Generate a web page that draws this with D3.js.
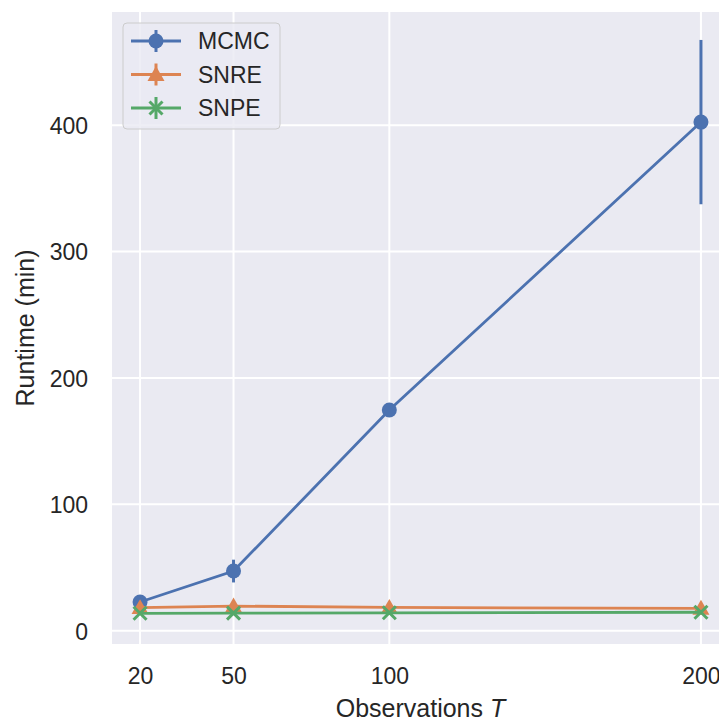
<!DOCTYPE html>
<html>
<head>
<meta charset="utf-8">
<script src="https://cdn.jsdelivr.net/npm/d3@7"></script>
<style>
  html, body { margin: 0; padding: 0; background: #fff; }
  svg { display: block; font-family: "Liberation Sans", Arial, sans-serif; }
</style>
</head>
<body>
<svg id="chart" width="719" height="725"></svg>
<script>
'use strict';

// data
const observations = [20, 50, 100, 200];
const xTicks = [20, 50, 100, 200];
const yTicks = [0, 100, 200, 300, 400];

const mcmcRuntime = [22.7, 47.2, 174.6, 402.4];
const mcmcErr = [2.5, 9, 3, 65];
const snreRuntime = [18.2, 19.5, 18.4, 17.7];
const snreErr = [1.5, 1.5, 1, 1];
const snpeRuntime = [13.8, 13.9, 14.2, 14.6];
const snpeErr = [0.6, 0.6, 0.6, 0.6];

const series = [
  { key: 'MCMC', color: '#4c72b0', marker: 'circle', values: mcmcRuntime, err: mcmcErr },
  { key: 'SNRE', color: '#dd8452', marker: 'triangle', values: snreRuntime, err: snreErr },
  { key: 'SNPE', color: '#55a868', marker: 'cross', values: snpeRuntime, err: snpeErr },
];

const plot = { left: 112, right: 729, top: 12, bottom: 644 };
const textColor = '#262626';

const svg = d3.select('#chart');

const x = d3.scaleLinear().domain([11, 209]).range([plot.left, plot.right]);
const y = d3.scaleLinear().domain([-10.5, 489.5]).range([plot.bottom, plot.top]);

svg.append('rect')
  .attr('x', plot.left)
  .attr('y', plot.top)
  .attr('width', plot.right - plot.left)
  .attr('height', plot.bottom - plot.top)
  .attr('fill', '#eaeaf2');

// grid lines
svg.append('g')
  .selectAll('line')
  .data(xTicks)
  .join('line')
  .attr('x1', (d) => x(d))
  .attr('x2', (d) => x(d))
  .attr('y1', plot.top)
  .attr('y2', plot.bottom)
  .attr('stroke', '#fff')
  .attr('stroke-width', 2);

svg.append('g')
  .selectAll('line')
  .data(yTicks)
  .join('line')
  .attr('x1', plot.left)
  .attr('x2', plot.right)
  .attr('y1', (d) => y(d))
  .attr('y2', (d) => y(d))
  .attr('stroke', '#fff')
  .attr('stroke-width', 2);

// axes, labels only
const xAxis = svg.append('g')
  .attr('transform', `translate(0,${plot.bottom})`)
  .call(d3.axisBottom(x).tickValues(xTicks).tickSize(0).tickPadding(24));
const yAxis = svg.append('g')
  .attr('transform', `translate(${plot.left},0)`)
  .call(d3.axisLeft(y).tickValues(yTicks).tickSize(0).tickPadding(24));

[xAxis, yAxis].forEach((axis) => {
  axis.select('.domain').remove();
  axis.selectAll('text')
    .attr('font-size', 23)
    .attr('fill', textColor)
    .attr('font-family', '"Liberation Sans", Arial, sans-serif');
});
yAxis.selectAll('text').attr('dy', '0.36em');

const xLabel = svg.append('text')
  .attr('x', (plot.left + plot.right) / 2)
  .attr('y', 717)
  .attr('text-anchor', 'middle')
  .attr('font-size', 25)
  .attr('fill', textColor);
xLabel.append('tspan').text('Observations ');
xLabel.append('tspan').attr('font-style', 'italic').text('T');

svg.append('text')
  .attr('transform', `translate(34,${(plot.top + plot.bottom) / 2}) rotate(-90)`)
  .attr('text-anchor', 'middle')
  .attr('font-size', 25)
  .attr('fill', textColor)
  .text('Runtime (min)');

const drawMarker = (g, type, color, cx, cy) => {
  if (type === 'circle') {
    g.append('circle')
      .attr('cx', cx)
      .attr('cy', cy)
      .attr('r', 7.5)
      .attr('fill', color);
  } else if (type === 'triangle') {
    const s = 8.5;
    g.append('path')
      .attr('d', `M${cx},${cy - s}L${cx + s},${cy + s * 0.75}L${cx - s},${cy + s * 0.75}Z`)
      .attr('fill', color);
  } else {
    const s = 6.5;
    g.append('path')
      .attr('d', `M${cx - s},${cy - s}L${cx + s},${cy + s}M${cx - s},${cy + s}L${cx + s},${cy - s}`)
      .attr('stroke', color)
      .attr('stroke-width', 3);
  }
};

const line = d3.line()
  .x((d) => x(d[0]))
  .y((d) => y(d[1]));

series.forEach((s) => {
  const g = svg.append('g').attr('class', `series-${s.key}`);
  const pts = observations.map((o, i) => [o, s.values[i], s.err[i]]);

  g.selectAll('line.err')
    .data(pts)
    .join('line')
    .attr('class', 'err')
    .attr('x1', (d) => x(d[0]))
    .attr('x2', (d) => x(d[0]))
    .attr('y1', (d) => y(d[1] - d[2]))
    .attr('y2', (d) => y(d[1] + d[2]))
    .attr('stroke', s.color)
    .attr('stroke-width', 3);

  g.append('path')
    .attr('d', line(pts))
    .attr('fill', 'none')
    .attr('stroke', s.color)
    .attr('stroke-width', 2.8);

  pts.forEach((d) => drawMarker(g, s.marker, s.color, x(d[0]), y(d[1])));
});

// legend
const legend = svg.append('g');
legend.append('rect')
  .attr('x', 123)
  .attr('y', 23)
  .attr('width', 157)
  .attr('height', 106)
  .attr('rx', 4)
  .attr('fill', '#eaeaf2')
  .attr('fill-opacity', 0.8)
  .attr('stroke', '#cccccc')
  .attr('stroke-width', 1);

series.forEach((s, i) => {
  const ly = 41 + i * 33.5;
  const item = legend.append('g');
  item.append('line')
    .attr('x1', 131)
    .attr('x2', 181)
    .attr('y1', ly)
    .attr('y2', ly)
    .attr('stroke', s.color)
    .attr('stroke-width', 2.8);
  item.append('line')
    .attr('x1', 156)
    .attr('x2', 156)
    .attr('y1', ly - 11)
    .attr('y2', ly + 11)
    .attr('stroke', s.color)
    .attr('stroke-width', 3);
  drawMarker(item, s.marker, s.color, 156, ly);
  item.append('text')
    .attr('x', 198)
    .attr('y', ly)
    .attr('dy', '0.36em')
    .attr('font-size', 23)
    .attr('fill', textColor)
    .text(s.key);
});
</script>
</body>
</html>
